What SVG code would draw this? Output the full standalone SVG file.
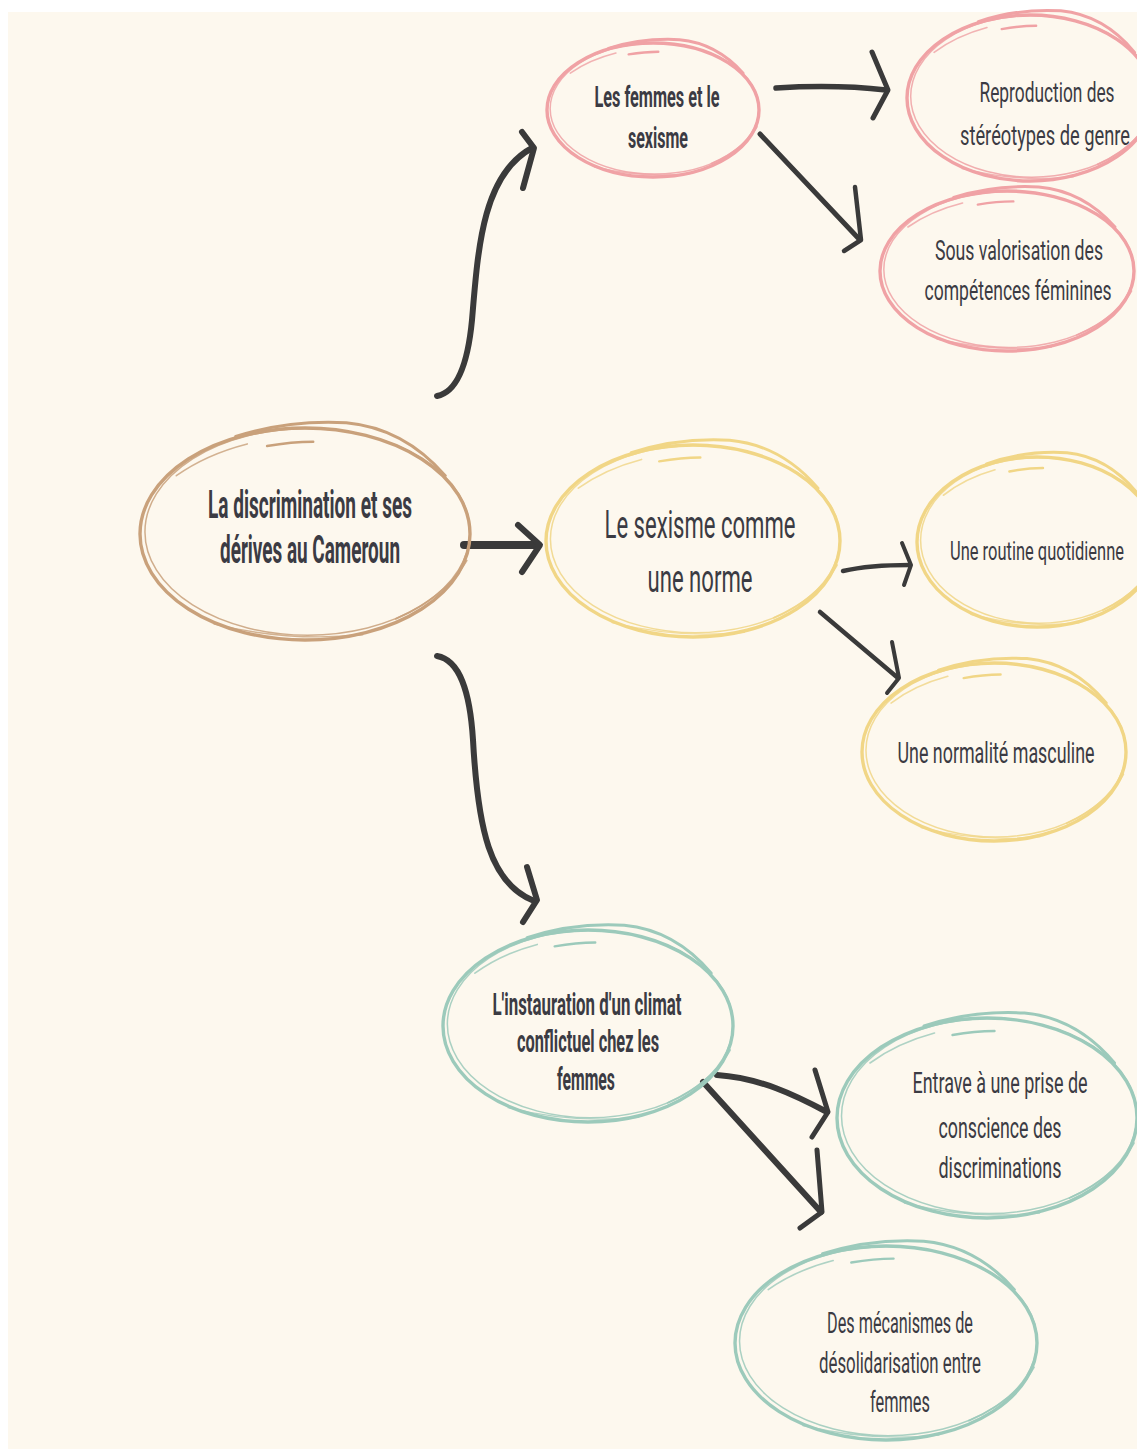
<svg xmlns="http://www.w3.org/2000/svg" xmlns:xlink="http://www.w3.org/1999/xlink" width="1137" height="1449" viewBox="0 0 1137 1449">
<style>
  .bg{fill:#fdf8ee}
  .sk{fill:none;stroke-linecap:round}
  .brown{stroke:#c9a17b}
  .pink{stroke:#f0a2a5}
  .yellow{stroke:#f1d686}
  .teal{stroke:#9ccabb}
  text{font-family:Roboto,"Liberation Sans",sans-serif;fill:#3b3b43;text-anchor:middle}
  .b{font-weight:bold}
  .arr{fill:none;stroke:#3a3a3a;stroke-linecap:round;stroke-linejoin:round}
</style>
<defs>
  <g id="sketch">
    <ellipse cx="0" cy="0" rx="1" ry="1" stroke-width="3.4" vector-effect="non-scaling-stroke"/>
    <ellipse cx="0.015" cy="-0.02" rx="0.985" ry="0.975" stroke-width="1.5" opacity="0.85" vector-effect="non-scaling-stroke"/>
    <path d="M-0.42,-0.92 Q-0.1,-1.08 0.25,-1.05 Q0.6,-1.0 0.85,-0.55" stroke-width="3" vector-effect="non-scaling-stroke"/>
    <path d="M-0.23,-0.83 Q-0.08,-0.87 0.05,-0.87" stroke-width="2.4" vector-effect="non-scaling-stroke"/>
    <path d="M-0.78,-0.55 Q-0.6,-0.75 -0.35,-0.85" stroke-width="1.6" opacity="0.8" vector-effect="non-scaling-stroke"/>
    <path d="M0.55,0.8 Q0.85,0.6 0.98,0.25" stroke-width="1.8" opacity="0.85" vector-effect="non-scaling-stroke"/>
    <path d="M-0.55,0.85 Q-0.1,1.02 0.35,0.95" stroke-width="1.4" opacity="0.8" vector-effect="non-scaling-stroke"/>
  </g>
</defs>
<rect x="0" y="0" width="1137" height="1449" fill="#ffffff"/>
<rect class="bg" x="8" y="12" width="1129" height="1437"/>

<g id="connectors">
  <path class="arr" stroke-width="6" d="M437,396 C458,392 468,362 472,320 C478,250 482,175 532,148"/>
  <polyline class="arr" stroke-width="6" points="522,132 534,148 523,188"/>
  <path class="arr" stroke-width="8" d="M464,545 L537,545"/>
  <polyline class="arr" stroke-width="6" points="518,525 540,545 522,572"/>
  <path class="arr" stroke-width="6" d="M437,656 C460,660 470,692 473,740 C478,830 490,882 532,900"/>
  <polyline class="arr" stroke-width="6" points="527,867 537,900 523,922"/>
  <path class="arr" stroke-width="5.5" d="M776,88 C810,86 850,86 886,90"/>
  <polyline class="arr" stroke-width="5" points="872,52 888,90 873,118"/>
  <path class="arr" stroke-width="5" d="M760,134 L860,240"/>
  <polyline class="arr" stroke-width="4.5" points="855,187 861,240 844,251"/>
  <path class="arr" stroke-width="4.5" d="M843,571 C865,566 888,565 910,565"/>
  <polyline class="arr" stroke-width="4" points="902,543 911,565 904,585"/>
  <path class="arr" stroke-width="4.5" d="M820,612 L898,678"/>
  <polyline class="arr" stroke-width="4" points="892,642 899,678 887,693"/>
  <path class="arr" stroke-width="6" d="M717,1075 C760,1078 795,1095 827,1112"/>
  <polyline class="arr" stroke-width="5" points="815,1070 828,1112 812,1137"/>
  <path class="arr" stroke-width="6" d="M703,1082 L821,1212"/>
  <polyline class="arr" stroke-width="5" points="817,1150 822,1212 800,1228"/>
</g>

<g id="node-central">
  <use xlink:href="#sketch" class="sk brown" transform="translate(305,534) scale(165,106)"/>
  <text class="b" transform="translate(310,518) scale(0.466,1)" font-size="38" textLength="438" lengthAdjust="spacingAndGlyphs">La discrimination et ses</text>
  <text class="b" transform="translate(310,563) scale(0.47,1)" font-size="38" textLength="383" lengthAdjust="spacingAndGlyphs">dérives au Cameroun</text>
</g>

<g id="node-femmes-sexisme">
  <use xlink:href="#sketch" class="sk pink" transform="translate(653,110) scale(106,67)"/>
  <text class="b" transform="translate(657,107) scale(0.539,1)" font-size="29" textLength="232" lengthAdjust="spacingAndGlyphs">Les femmes et le</text>
  <text class="b" transform="translate(658,148) scale(0.536,1)" font-size="29" textLength="112" lengthAdjust="spacingAndGlyphs">sexisme</text>
</g>

<g id="node-reproduction">
  <use xlink:href="#sketch" class="sk pink" transform="translate(1030,98) scale(123,83)"/>
  <text transform="translate(1047,102) scale(0.603,1)" font-size="28" textLength="224" lengthAdjust="spacingAndGlyphs">Reproduction des</text>
  <text transform="translate(1045,145) scale(0.607,1)" font-size="28" textLength="280" lengthAdjust="spacingAndGlyphs">stéréotypes de genre</text>
</g>

<g id="node-sous-valorisation">
  <use xlink:href="#sketch" class="sk pink" transform="translate(1007,271) scale(127,80)"/>
  <text transform="translate(1019,260) scale(0.632,1)" font-size="28" textLength="266" lengthAdjust="spacingAndGlyphs">Sous valorisation des</text>
  <text transform="translate(1018,300) scale(0.636,1)" font-size="28" textLength="294" lengthAdjust="spacingAndGlyphs">compétences féminines</text>
</g>

<g id="node-sexisme-norme">
  <use xlink:href="#sketch" class="sk yellow" transform="translate(693,541) scale(147,96)"/>
  <text transform="translate(700,538) scale(0.612,1)" font-size="39" textLength="312" lengthAdjust="spacingAndGlyphs">Le sexisme comme</text>
  <text transform="translate(700,592) scale(0.598,1)" font-size="39" textLength="175.5" lengthAdjust="spacingAndGlyphs">une norme</text>
</g>

<g id="node-routine">
  <use xlink:href="#sketch" class="sk yellow" transform="translate(1037,542) scale(120,85)"/>
  <text transform="translate(1037,560) scale(0.605,1)" font-size="25" textLength="287.5" lengthAdjust="spacingAndGlyphs">Une routine quotidienne</text>
</g>

<g id="node-normalite">
  <use xlink:href="#sketch" class="sk yellow" transform="translate(994,752) scale(132,89)"/>
  <text transform="translate(996,763) scale(0.571,1)" font-size="30" textLength="345" lengthAdjust="spacingAndGlyphs">Une normalité masculine</text>
</g>

<g id="node-climat">
  <use xlink:href="#sketch" class="sk teal" transform="translate(588,1026) scale(145,96)"/>
  <text class="b" transform="translate(587,1015) scale(0.499,1)" font-size="31" textLength="379" lengthAdjust="spacingAndGlyphs">L'instauration d'un climat</text>
  <text class="b" transform="translate(588,1052) scale(0.477,1)" font-size="31" textLength="298" lengthAdjust="spacingAndGlyphs">conflictuel chez les</text>
  <text class="b" transform="translate(586,1090) scale(0.49,1)" font-size="31" textLength="118" lengthAdjust="spacingAndGlyphs">femmes</text>
</g>

<g id="node-entrave">
  <use xlink:href="#sketch" class="sk teal" transform="translate(987,1118) scale(150,100)"/>
  <text transform="translate(1000,1093) scale(0.549,1)" font-size="29" textLength="319" lengthAdjust="spacingAndGlyphs">Entrave à une prise de</text>
  <text transform="translate(1000,1138) scale(0.566,1)" font-size="29" textLength="217.5" lengthAdjust="spacingAndGlyphs">conscience des</text>
  <text transform="translate(1000,1178) scale(0.566,1)" font-size="29" textLength="217.5" lengthAdjust="spacingAndGlyphs">discriminations</text>
</g>

<g id="node-desolidarisation">
  <use xlink:href="#sketch" class="sk teal" transform="translate(886,1343) scale(151,97)"/>
  <text transform="translate(900,1333) scale(0.592,1)" font-size="29" textLength="246.5" lengthAdjust="spacingAndGlyphs">Des mécanismes de</text>
  <text transform="translate(900,1373) scale(0.508,1)" font-size="29" textLength="319" lengthAdjust="spacingAndGlyphs">désolidarisation entre</text>
  <text transform="translate(900,1412) scale(0.571,1)" font-size="29" textLength="105" lengthAdjust="spacingAndGlyphs">femmes</text>
</g>
</svg>
